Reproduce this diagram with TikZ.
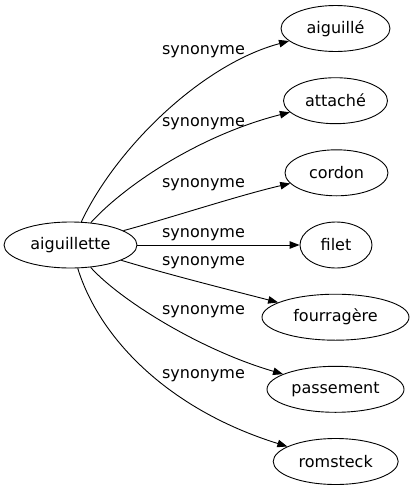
\documentclass[tikz,border=0pt]{standalone}
\usepackage{fontspec}
\setmainfont{DejaVu Sans}
\usetikzlibrary{arrows.meta,shapes.geometric}
\begin{document}
\begin{tikzpicture}[x=1pt,y=-1pt,
  every node/.style={font=\fontsize{16pt}{19pt}\selectfont},
  word/.style={draw,ellipse,inner sep=0pt,minimum height=46pt,line width=0.9pt},
  lbl/.style={inner sep=0pt},
  edge/.style={draw,line width=0.9pt,-{Triangle[length=10pt,width=7.5pt]}}]
\useasboundingbox (0,0) rectangle (414,491);
\node[word,minimum width=133pt] (a) at (70.5,245) {aiguillette};
\node[word,minimum width=109pt] (n1) at (335.5,28.5) {aiguillé};
\node[word,minimum width=104pt] (n2) at (335.5,100.7) {attaché};
\node[word,minimum width=103pt] (n3) at (336.5,172.8) {cordon};
\node[word,minimum width=72pt] (n4) at (336,245) {filet};
\node[word,minimum width=147pt] (n5) at (335.5,317.2) {fourragère};
\node[word,minimum width=137pt] (n6) at (335.5,389.3) {passement};
\node[word,minimum width=125pt] (n7) at (335.7,461.5) {romsteck};
\node[lbl] (l1) at (203.5,51.7) {synonyme};
\node[lbl] (l2) at (203.5,123.3) {synonyme};
\node[lbl] (l3) at (203.5,185) {synonyme};
\node[lbl] (l4) at (203.5,235) {synonyme};
\node[lbl] (l5) at (203.5,262.7) {synonyme};
\node[lbl] (l6) at (203.5,311.7) {synonyme};
\node[lbl] (l7) at (203.5,376) {synonyme};
\draw[edge] (a) .. controls (115,150) and (200,65) .. (n1);
\draw[edge] (a) .. controls (125,185) and (200,135) .. (n2);
\draw[edge] (a) .. controls (170,218) and (240,195) .. (n3);
\draw[edge] (a) -- (n4);
\draw[edge] (a) .. controls (170,275) and (230,290) .. (n5);
\draw[edge] (a) .. controls (120,300) and (200,350) .. (n6);
\draw[edge] (a) .. controls (100,340) and (170,410) .. (n7);
\end{tikzpicture}
\end{document}
